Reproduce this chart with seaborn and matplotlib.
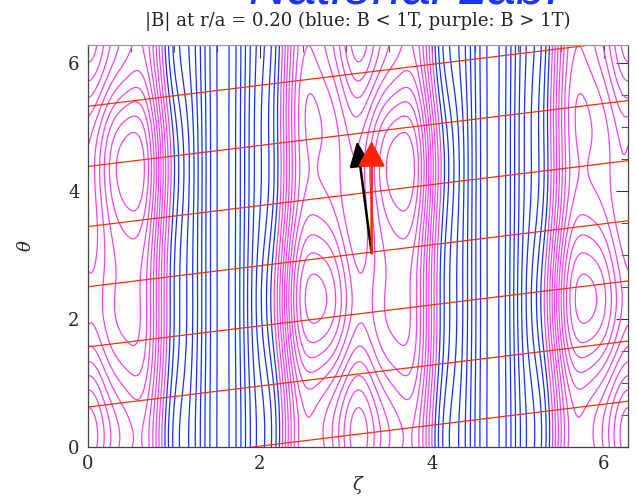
import numpy as np
import pandas as pd
import matplotlib
matplotlib.use("Agg")
import matplotlib.pyplot as plt
from matplotlib.ticker import MultipleLocator
import seaborn as sns

# ---------------- data ----------------
# |B| profile along zeta (half field period, symmetric), in contour steps relative to 1T
profile_zeta = [0.0, 0.1, 0.2, 0.3, 0.4, 0.5, 0.6, 0.7, 0.8, 0.9,
                1.0, 1.1, 1.2, 1.3, 1.4, 1.5, 1.571]
profile_steps = [4.0, 4.6, 5.8, 7.0, 7.8, 8.0, 7.8, 6.8, 3.9, 0.2,
                 -1.8, -3.4, -5.0, -6.6, -8.4, -10.1, -10.3]
level_step = 0.02
# poloidal modulation modes: amp * cos(m*theta - n*zeta + phase), amp in steps
mode_m = [1, 1, 1, 2, 2, 2]
mode_n = [0, 2, -2, 0, 2, -2]
mode_amp = [2.5, 1.0, -1.0, 1.2, -0.6, 0.6]
mode_phase = [-3.14, -3.14, -3.14, -3.7, -3.7, -3.7]

blue_levels = [0.80, 0.82, 0.84, 0.86, 0.88, 0.90, 0.92, 0.94, 0.96, 0.98]
purple_levels = [1.00, 1.02, 1.04, 1.06, 1.08, 1.10, 1.12, 1.14, 1.16, 1.18,
                 1.20, 1.22, 1.24, 1.26, 1.28, 1.30, 1.32, 1.34, 1.36]

# field-line traces (theta at zeta = 0, and slope d theta / d zeta)
fieldline_offsets = [-0.315, 0.625, 1.565, 2.505, 3.445, 4.385, 5.325]
fieldline_slope = 0.164

# arrows: common base, black tip, red tip (zeta, theta)
arrow_base = (3.30, 3.03)
black_tip = (3.13, 4.78)
red_tip = (3.30, 4.78)

title = "|B| at r/a = 0.20 (blue: B < 1T, purple: B > 1T)"
x_ticks = [0, 2, 4, 6]
y_ticks = [0, 2, 4, 6]

# ---------------- build the field ----------------
harm = np.arange(0, 9)
Zk = np.array(profile_zeta)
A = np.cos(2 * np.outer(Zk, harm))
coef, *_ = np.linalg.lstsq(A, np.array(profile_steps), rcond=None)

zeta = np.linspace(0, 2 * np.pi, 600)
theta = np.linspace(0, 2 * np.pi, 600)
ZZ, TT = np.meshgrid(zeta, theta)
base = sum(c * np.cos(2 * k * ZZ) for k, c in zip(harm, coef))
env = 0.5 * (1 + np.cos(2 * ZZ))
mod = sum(a * np.cos(m * TT - n * ZZ + p)
          for m, n, a, p in zip(mode_m, mode_n, mode_amp, mode_phase))
B = 1.0 + level_step * (base + env * mod)

# ---------------- plot ----------------
sns.set_theme(style="white")
plt.rcParams["font.family"] = ["DejaVu Serif"]
plt.rcParams["mathtext.fontset"] = "dejavuserif"

fig = plt.figure(figsize=(6.37, 4.96), dpi=100)
ax = fig.add_axes([88 / 637, 49 / 496, 540 / 637, 402 / 496])

ax.contour(ZZ, TT, B, levels=blue_levels, colors="#1530ff", linewidths=0.9)
ax.contour(ZZ, TT, B, levels=purple_levels, colors="#f044f0", linewidths=0.9)

rows = []
for i, off in enumerate(fieldline_offsets):
    for z in (0.0, 2 * np.pi):
        rows.append({"zeta": z, "theta": off + fieldline_slope * z, "line": i})
df = pd.DataFrame(rows)
sns.lineplot(data=df, x="zeta", y="theta", units="line", estimator=None,
             color="#ff3000", linewidth=0.9, ax=ax, legend=False)

ax.annotate("", xy=black_tip, xytext=arrow_base,
            arrowprops=dict(arrowstyle="-|>,head_length=1.3,head_width=0.55",
                            color="black", lw=1.8, shrinkA=0, shrinkB=0))
ax.annotate("", xy=red_tip, xytext=arrow_base,
            arrowprops=dict(arrowstyle="-|>,head_length=1.3,head_width=0.7",
                            color="#ff2200", lw=1.8, shrinkA=0, shrinkB=0))

ax.set_xlim(0, 2 * np.pi)
ax.set_ylim(0, 2 * np.pi)
ax.set_xticks(x_ticks)
ax.set_yticks(y_ticks)
ax.xaxis.set_minor_locator(MultipleLocator(0.5))
ax.yaxis.set_minor_locator(MultipleLocator(0.5))
ax.tick_params(which="major", direction="in", length=9, width=0.8, color="#333333",
               top=True, right=True, labelsize=13, pad=6)
ax.tick_params(which="minor", direction="in", length=5, width=0.8, color="#555555",
               top=True, right=True)
for s in ax.spines.values():
    s.set_color("#444444")
    s.set_linewidth(0.9)
ax.spines["top"].set_color("#999999")

ax.set_title(title, fontsize=13, color="#222222", pad=14)
ax.set_xlabel(r"$\zeta$", fontsize=13)
ax.set_ylabel(r"$\theta$", fontsize=13)
ax.xaxis.label.set_va("center")
ax.xaxis.set_label_coords(0.5, -0.095)
ax.yaxis.set_label_coords(-0.098, 0.5)

fig.text(405 / 637, 1 - 4 / 496, "National Lab.", color="#1a35f5", fontsize=38,
         style="italic", family=["Liberation Sans"], ha="center", va="baseline")

fig.savefig("out.png", dpi=100)
